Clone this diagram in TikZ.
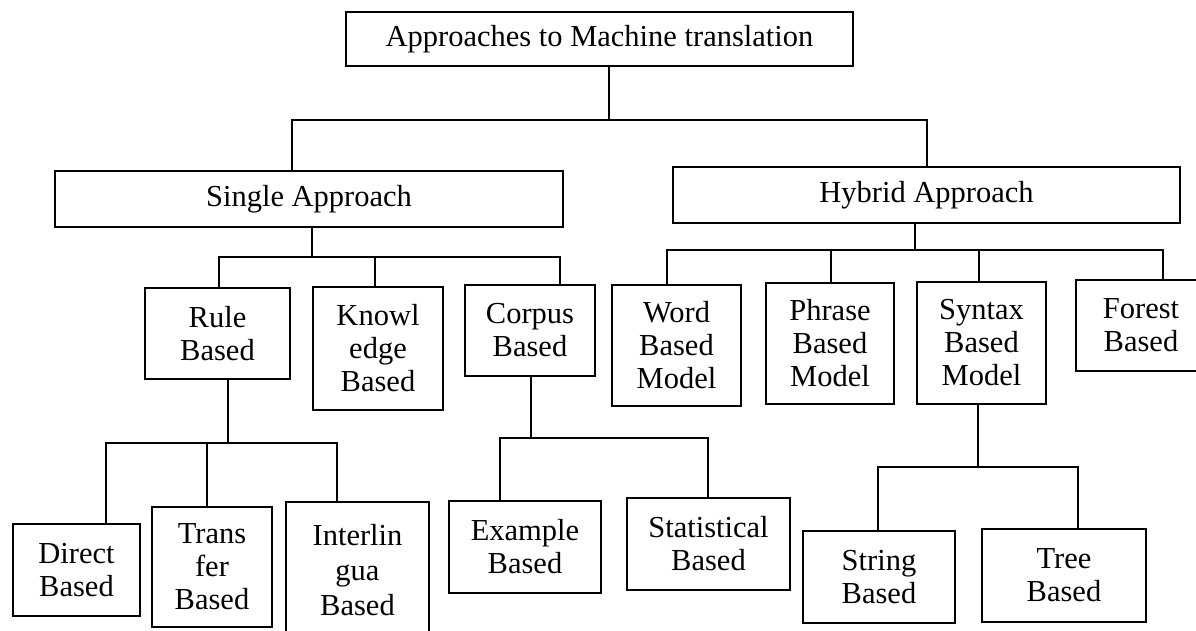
\documentclass[tikz,border=0pt]{standalone}
\usepackage{fontspec}
\setmainfont{Liberation Serif}
\begin{document}
\begin{tikzpicture}[x=1pt,y=-1pt,
  box/.style={draw, line width=1.5pt, rectangle, inner sep=0pt, align=center,
              font=\fontsize{30.5}{33}\selectfont},
  link/.style={draw, line width=1.5pt},
  heavy/.style={draw, line width=2.6pt}]
\useasboundingbox (0,0) rectangle (1196,631);
\clip (0,0) rectangle (1196,631);
\fill[white] (0,0) rectangle (1196,631);

% root
\node[box, minimum width=507pt, minimum height=54pt] (top) at (599.5,39) {Approaches to Machine translation};

% second level
\node[box, minimum width=508pt, minimum height=56pt] (single) at (309,199) {Single Approach};
\node[box, minimum width=507pt, minimum height=56pt] (hybrid) at (926.5,195) {Hybrid Approach};

% single approach branches
\node[box, minimum width=145pt, minimum height=91pt] (rule) at (217.5,333.5) {Rule\\Based};
\node[box, minimum width=130pt, minimum height=123pt] (know) at (378,348.5) {Knowl\\edge\\Based};
\node[box, minimum width=130pt, minimum height=91pt] (corpus) at (530,330.5) {Corpus\\Based};

% hybrid approach branches
\node[box, minimum width=129pt, minimum height=121pt] (word) at (676.5,345.5) {Word\\Based\\Model};
\node[box, minimum width=128pt, minimum height=121pt] (phrase) at (830,343.5) {Phrase\\Based\\Model};
\node[box, minimum width=129pt, minimum height=122pt] (syntax) at (981.5,343) {Syntax\\Based\\Model};
\node[box, minimum width=130pt, minimum height=91pt] (forest) at (1141,325.5) {Forest\\Based};

% rule based leaves
\node[box, minimum width=127pt, minimum height=92pt] (direct) at (76.5,570) {Direct\\Based};
\node[box, minimum width=120pt, minimum height=120pt] (trans) at (212,567) {Trans\\fer\\Based};
\node[box, minimum width=143pt, minimum height=136pt, font=\fontsize{30.5}{35}\selectfont] (inter) at (357.5,570) {Interlin\\gua\\Based};

% corpus based leaves
\node[box, minimum width=152pt, minimum height=92pt] (example) at (525,547) {Example\\Based};
\node[box, minimum width=163pt, minimum height=92pt] (stat) at (708.5,544) {Statistical\\Based};

% syntax based leaves
\node[box, minimum width=152pt, minimum height=92pt] (string) at (879,577) {String\\Based};
\node[box, minimum width=164pt, minimum height=93pt] (tree) at (1064,575.5) {Tree\\Based};

% bus junctions
\coordinate (b0) at (609,120);
\coordinate (b1) at (312,257);
\coordinate (b2) at (915,250);
\coordinate (b3) at (228,443);
\coordinate (b4) at (531,438);
\coordinate (b5) at (978,467);

% root to second level
\draw[link] (top.south -| b0) -- (b0);
\draw[link] ([xshift=-17pt]single.north) |- (b0);
\draw[link] ([xshift=0.5pt]hybrid.north) |- (b0);

% single approach
\draw[heavy] (single.south -| b1) -- (b1);
\draw[link] ([xshift=1.5pt]rule.north) |- (b1);
\draw[link] ([xshift=-3pt]know.north) |- (b1);
\draw[link] ([xshift=30pt]corpus.north) |- (b1);

% hybrid approach
\draw[link] (hybrid.south -| b2) -- (b2);
\draw[link] ([xshift=-9.5pt]word.north) |- (b2);
\draw[link] ([xshift=1pt]phrase.north) |- (b2);
\draw[link] ([xshift=-2.5pt]syntax.north) |- (b2);
\draw[link] ([xshift=22pt]forest.north) |- (b2);

% rule based
\draw[heavy] (rule.south -| b3) -- (b3);
\draw[link] ([xshift=29.5pt]direct.north) |- (b3);
\draw[link] ([xshift=-5pt]trans.north) |- (b3);
\draw[link] ([xshift=-20.5pt]inter.north) |- (b3);

% corpus based
\draw[link] (corpus.south -| b4) -- (b4);
\draw[link] ([xshift=-25pt]example.north) |- (b4);
\draw[link] ([xshift=-0.5pt]stat.north) |- (b4);

% syntax based
\draw[link] (syntax.south -| b5) -- (b5);
\draw[link] ([xshift=-1pt]string.north) |- (b5);
\draw[link] ([xshift=14pt]tree.north) |- (b5);
\end{tikzpicture}
\end{document}
